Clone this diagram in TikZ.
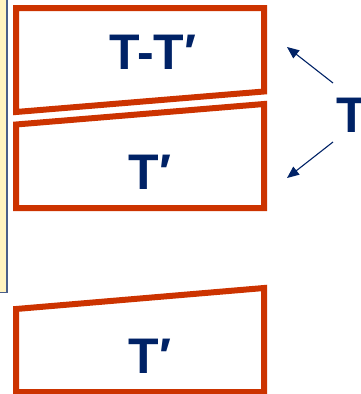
\documentclass[tikz,border=0pt]{standalone}
\usepackage{fontspec}
\setmainfont{Liberation Sans}
\usetikzlibrary{arrows.meta}
\definecolor{brick}{HTML}{CC3300}
\definecolor{navy}{HTML}{002266}
\definecolor{panel}{HTML}{FFF3C0}
\definecolor{paneledge}{HTML}{4A5F8A}
\begin{document}
\begin{tikzpicture}[x=1pt,y=-1pt,
  slab/.style={draw=brick,line width=6pt,line join=miter},
  label/.style={text=navy,font=\fontsize{50}{60}\selectfont\bfseries,inner sep=0pt,anchor=base},
  pointer/.style={draw=navy,line width=1.1pt,-{Triangle[length=12pt,width=10pt]}}]
  \useasboundingbox (0,0) rectangle (361,394);
  % side panel
  \path[fill=panel,draw=paneledge,line width=1.6pt] (-5,-5) rectangle (7.2,292.5);
  % the three slabs
  \path[slab] (16,8) -- (264,8) -- (264,91.5) -- (16,112) -- cycle;
  \path[slab] (16,124.5) -- (264,104) -- (264,208) -- (16,208) -- cycle;
  \path[slab] (16,309) -- (264,288) -- (264,392) -- (16,392) -- cycle;
  % labels
  \node[label] (diff) at (153,69) {T-T′};
  \node[label] (mid) at (150,189) {T′};
  \node[label] (low) at (150,373) {T′};
  \node[label,anchor=base west] (whole) at (336.5,132) {T};
  % pointers from the whole to its parts
  \coordinate (up) at (333,83);
  \coordinate (dn) at (333,142);
  \coordinate (uptip) at (287,47);
  \coordinate (dntip) at (287,178);
  \draw[pointer] (up) -- (uptip);
  \draw[pointer] (dn) -- (dntip);
\end{tikzpicture}
\end{document}
